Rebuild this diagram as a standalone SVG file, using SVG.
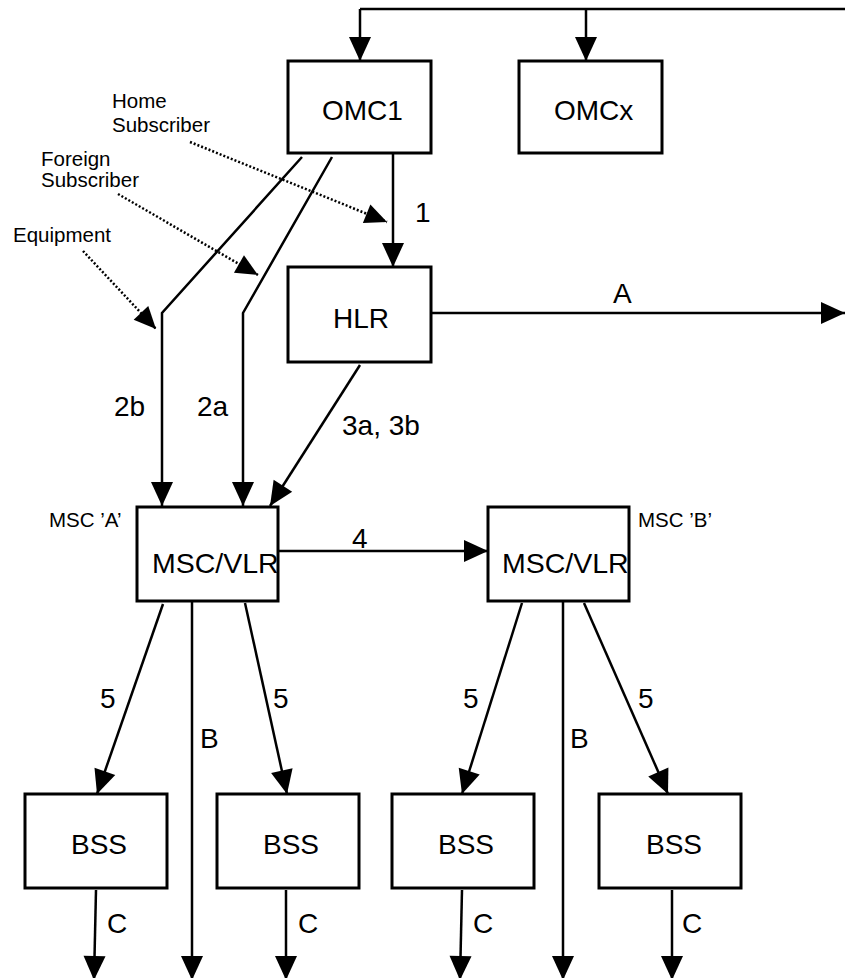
<svg xmlns="http://www.w3.org/2000/svg" width="845" height="978" viewBox="0 0 845 978">
<style>
.box{fill:#fff;stroke:#000;stroke-width:3}
.big{font-family:"Liberation Sans",Arial,sans-serif;font-size:28px;fill:#000}
.msc{font-size:28.5px}
.small{font-family:"Liberation Sans",Arial,sans-serif;font-size:20.5px;fill:#000}
.ln{fill:none;stroke:#000;stroke-width:2.5}
.arr{fill:none;stroke:#000;stroke-width:2.5;marker-end:url(#ah)}
.dot{fill:none;stroke:#000;stroke-width:2.5;stroke-dasharray:2 2;marker-end:url(#ahs)}
</style>
<defs>
<marker id="ah" markerUnits="userSpaceOnUse" markerWidth="24" markerHeight="22" refX="24" refY="11" orient="auto" overflow="visible">
<path d="M0,0 L24,11 L0,22 Z" fill="#000"/>
</marker>
<marker id="ahs" markerUnits="userSpaceOnUse" markerWidth="22" markerHeight="20" refX="22" refY="10" orient="auto" overflow="visible">
<path d="M0,0 L22,10 L0,20 Z" fill="#000"/>
</marker>
</defs>
<rect width="845" height="978" fill="#fff"/>

<g id="connectors">
<path class="ln" d="M845,9 H360"/>
<path class="arr" d="M360,9 V61"/>
<path class="arr" d="M586,9 V61"/>
<path class="arr" d="M393,153 V267"/>
<path class="arr" d="M431,313 H845"/>
<path class="arr" d="M302,157 L162,313 V506"/>
<path class="arr" d="M332,157 L243,313 V506"/>
<path class="arr" d="M360,365 L270,506"/>
<path class="arr" d="M278,551 H488"/>
<path class="arr" d="M163,604 L97,794"/>
<path class="arr" d="M245,603 L287,794"/>
<path class="arr" d="M192,601 V980"/>
<path class="arr" d="M522,603 L462,794"/>
<path class="arr" d="M584,603 L668,794"/>
<path class="arr" d="M563,601 V980"/>
<path class="arr" d="M96,890 L94,980"/>
<path class="arr" d="M286,890 V980"/>
<path class="arr" d="M462,890 L460,980"/>
<path class="arr" d="M672,890 V980"/>
<path class="dot" d="M190,142 L387,222"/>
<path class="dot" d="M118,194 L258,275"/>
<path class="dot" d="M83,251 L156,329"/>
<text class="big" x="415" y="222">1</text>
<text class="big" x="613" y="303">A</text>
<text class="big" x="114" y="416">2b</text>
<text class="big" x="197" y="416">2a</text>
<text class="big" x="342" y="435">3a, 3b</text>
<text class="big" x="352" y="548">4</text>
<text class="big" x="100" y="708">5</text>
<text class="big" x="273" y="708">5</text>
<text class="big" x="200" y="748">B</text>
<text class="big" x="463" y="708">5</text>
<text class="big" x="638" y="708">5</text>
<text class="big" x="570" y="748">B</text>
<text class="big" x="107" y="933">C</text>
<text class="big" x="298" y="933">C</text>
<text class="big" x="473" y="933">C</text>
<text class="big" x="682" y="933">C</text>
</g>

<g id="labels">
<text class="small" x="112" y="108">Home</text>
<text class="small" x="112" y="132">Subscriber</text>
<text class="small" x="41" y="166">Foreign</text>
<text class="small" x="41" y="187">Subscriber</text>
<text class="small" x="13" y="242">Equipment</text>
<text class="small" x="49" y="527">MSC ’A’</text>
<text class="small" x="638" y="527">MSC ’B’</text>
</g>

<g id="omc1"><rect class="box" x="288" y="61" width="143" height="92"/><text class="big" x="322" y="120">OMC1</text></g>
<g id="omcx"><rect class="box" x="519" y="61" width="143" height="92"/><text class="big" x="554" y="120">OMCx</text></g>
<g id="hlr"><rect class="box" x="288" y="267" width="143" height="95"/><text class="big" x="333" y="328">HLR</text></g>
<g id="msca"><rect class="box" x="137" y="507" width="141" height="94"/><text class="big msc" x="152" y="573">MSC/VLR</text></g>
<g id="mscb"><rect class="box" x="488" y="507" width="141" height="94"/><text class="big msc" x="502" y="573">MSC/VLR</text></g>
<g id="bss1"><rect class="box" x="25" y="794" width="142" height="94"/><text class="big" x="71" y="854">BSS</text></g>
<g id="bss2"><rect class="box" x="217" y="794" width="142" height="94"/><text class="big" x="263" y="854">BSS</text></g>
<g id="bss3"><rect class="box" x="392" y="794" width="142" height="94"/><text class="big" x="438" y="854">BSS</text></g>
<g id="bss4"><rect class="box" x="599" y="794" width="142" height="94"/><text class="big" x="646" y="854">BSS</text></g>
</svg>
